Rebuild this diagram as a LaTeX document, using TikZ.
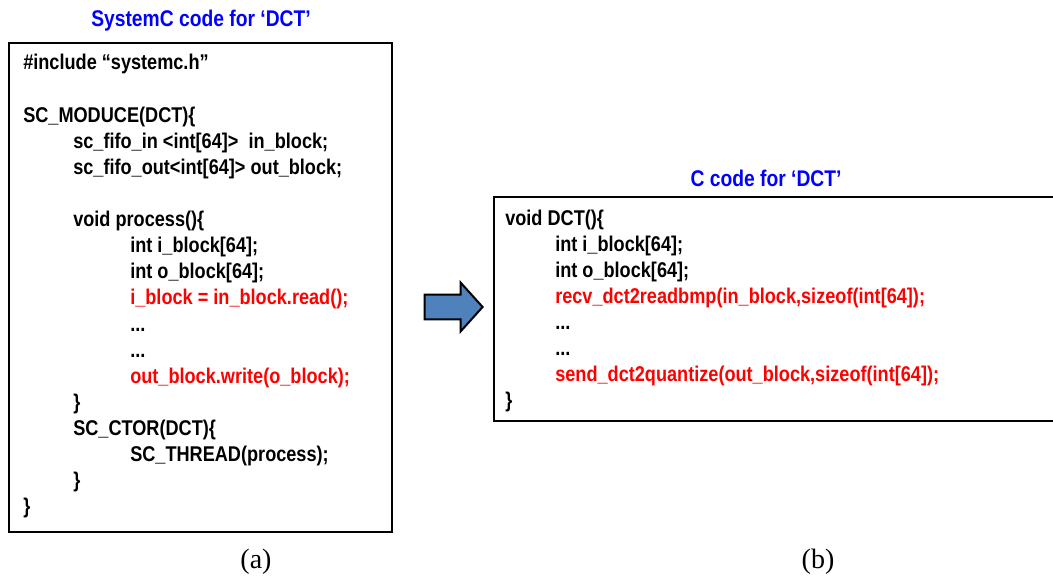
\documentclass[tikz,border=0pt]{standalone}
\usepackage{fontspec}
\setmainfont{Liberation Serif}
\newfontfamily\codefont[FakeStretch=0.85]{Liberation Sans}
\usetikzlibrary{shapes.arrows}
\definecolor{titleblue}{RGB}{0,0,255}
\definecolor{codered}{RGB}{255,0,0}
\definecolor{arrowblue}{RGB}{79,129,189}
\tikzset{
  codeline/.style={anchor=base west, inner sep=0pt, font=\codefont\bfseries\fontsize{16pt}{19pt}\selectfont},
  hotline/.style={codeline, text=codered},
  codetitle/.style={inner sep=0pt, text=titleblue, font=\codefont\bfseries\fontsize{17pt}{20pt}\selectfont},
  subcap/.style={inner sep=0pt, font=\fontsize{21pt}{25pt}\selectfont},
  frame/.style={line width=1.5pt, line join=miter}
}

\begin{document}
\begin{tikzpicture}[x=0.75pt,y=0.75pt,yscale=-1,xscale=1]
		\useasboundingbox (0,0) rectangle (1053,581);
		% frames
		\draw[frame] (9,43) rectangle (392,532);
		\draw[frame] (1053,197) -- (494,197) -- (494,421) -- (1053,421);
		% titles
		\node (ttla) [codetitle] at (201,21) {SystemC code for ‘DCT’};
		\node (ttlb) [codetitle] at (766,178) {C code for ‘DCT’};
		% SystemC code
		\node (la1) [codeline] at (23,70) {\#include “systemc.h”};
		\node (la3) [codeline] at (23,122.2) {SC\_MODUCE(DCT)\{};
		\node (la4) [codeline] at (73,148.3) {sc\_fifo\_in <int[64]>\ \ in\_block;};
		\node (la5) [codeline] at (73,174.4) {sc\_fifo\_out<int[64]> out\_block;};
		\node (la7) [codeline] at (73,226.6) {void process()\{};
		\node (la8) [codeline] at (130,252.7) {int i\_block[64];};
		\node (la9) [codeline] at (130,278.8) {int o\_block[64];};
		\node (la10) [hotline] at (130,304.9) {i\_block = in\_block.read();};
		\node (la11) [codeline] at (130,331) {...};
		\node (la12) [codeline] at (130,357.1) {...};
		\node (la13) [hotline] at (130,383.2) {out\_block.write(o\_block);};
		\node (la14) [codeline] at (73,409.3) {\}};
		\node (la15) [codeline] at (73,435.4) {SC\_CTOR(DCT)\{};
		\node (la16) [codeline] at (130,461.5) {SC\_THREAD(process);};
		\node (la17) [codeline] at (73,487.6) {\}};
		\node (la18) [codeline] at (23,513.7) {\}};
		% C code
		\node (lb1) [codeline] at (505,225) {void DCT()\{};
		\node (lb2) [codeline] at (555,251) {int i\_block[64];};
		\node (lb3) [codeline] at (555,277) {int o\_block[64];};
		\node (lb4) [hotline] at (555,303) {recv\_dct2readbmp(in\_block,sizeof(int[64]);};
		\node (lb5) [codeline] at (555,329) {...};
		\node (lb6) [codeline] at (555,355) {...};
		\node (lb7) [hotline] at (555,381) {send\_dct2quantize(out\_block,sizeof(int[64]);};
		\node (lb8) [codeline] at (505,407) {\}};
		% conversion arrow
		\node (conv) [single arrow, draw, fill=arrowblue, line width=1.5pt, minimum height=43.5pt,
			inner xsep=0pt, inner ysep=8.6pt, single arrow head extend=9pt, single arrow tip angle=96] at (448,307) {};
		% captions
		\node (capa) [subcap] at (256,562) {(a)};
		\node (capb) [subcap] at (818,562) {(b)};
\end{tikzpicture}
\end{document}
